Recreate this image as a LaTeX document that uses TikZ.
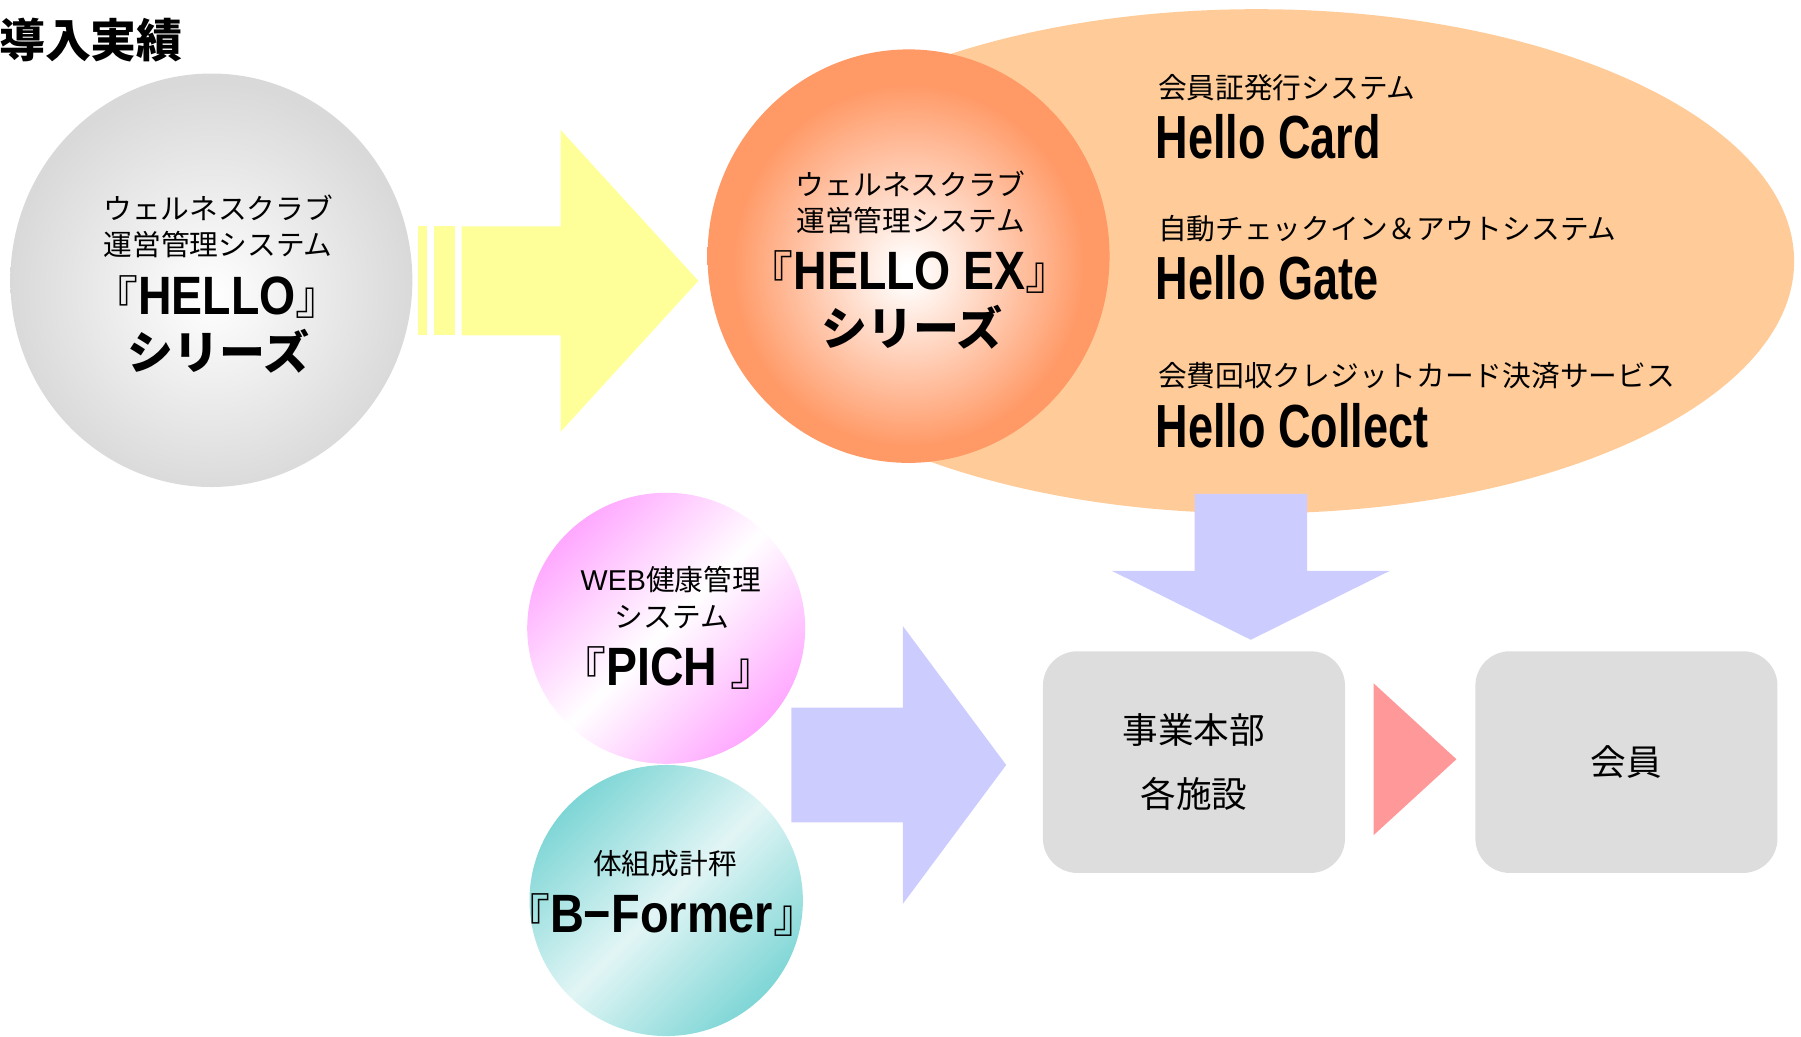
\documentclass[tikz,border=0pt]{standalone}
\usepackage{fontspec}
\newfontfamily\jp{Noto Sans CJK JP}
\newfontfamily\cond[FakeStretch=0.74]{Liberation Sans}
\newfontfamily\condw[FakeStretch=0.86]{Liberation Sans}
\newfontfamily\condx[FakeStretch=0.87]{Liberation Sans}
\newfontfamily\lat{Liberation Sans}
\usetikzlibrary{shapes.geometric}
\definecolor{peach}{HTML}{FFCC99}
\definecolor{corange}{HTML}{FF9966}
\definecolor{cyellow}{HTML}{FFFF99}
\definecolor{lav}{HTML}{CCCCFF}
\definecolor{pinkarr}{HTML}{FF9999}
\definecolor{boxgray}{HTML}{DDDDDD}
\definecolor{cgray}{HTML}{D9D9D9}
\definecolor{pinkE}{HTML}{FFA8FF}
\definecolor{tealE}{HTML}{7FD6D6}
\definecolor{tealM}{HTML}{E2F5F5}
\pgfdeclareradialshading{grayball}{\pgfpoint{0bp}{-2bp}}{color(0bp)=(white); color(25bp)=(cgray); color(50bp)=(cgray)}
\pgfdeclareradialshading{orangeball}{\pgfpoint{0bp}{-2bp}}{color(0bp)=(white); color(1bp)=(white); color(22bp)=(corange); color(50bp)=(corange)}
\tikzset{
  jt/.style={font=\jp\fontsize{25}{28}\selectfont, inner sep=0pt},
  jbig/.style={font=\jp\bfseries\fontsize{40}{44}\selectfont, inner sep=0pt},
  latb/.style={font=\cond\bfseries\fontsize{53}{56}\selectfont, inner sep=0pt},
  boxt/.style={font=\jp\fontsize{31}{56}\selectfont, align=center},
  roundbox/.style={rectangle, rounded corners=30pt, fill=boxgray, minimum width=263pt, minimum height=193pt, inner sep=0pt},
  ball/.style={ellipse, inner sep=0pt}
}
\newcommand{\cl}[1]{{\condw\fontsize{47}{50}\selectfont #1}}
\newcommand{\lb}{{\mdseries 『}}
\newcommand{\rb}{{\mdseries 』}}
\begin{document}
\begin{tikzpicture}[x=1pt,y=-1pt]
\useasboundingbox (0,0) rectangle (1568,902);
% title
\node[font=\jp\bfseries\fontsize{40}{44}\selectfont, inner sep=0pt, anchor=west] (title) at (-1,35) {導入実績};
% gray circle
\node[ball, shading=grayball, minimum width=350pt, minimum height=360pt] (hello) at (184,244) {};
\node[jt] (h1) at (190,181) {ウェルネスクラブ};
\node[jt] (h2) at (190,213) {運営管理システム};
\node[jbig] (h3) at (189,259) {\lb\cl{HELLO}\rb};
\node[jbig] (h4) at (190,306) {シリーズ};
% yellow arrow
\fill[cyellow] (364,197) rectangle (372,292);
\fill[cyellow] (378,197) rectangle (396,292);
\fill[cyellow] (402,197) -- (488,197) -- (488,113) -- (608,244.5) -- (488,376) -- (488,292) -- (402,292) -- cycle;
% peach ellipse
\node[ball, fill=peach, minimum width=936pt, minimum height=439pt] (suite) at (1094,227.5) {};
% orange circle
\node[ball, shading=orangeball, minimum width=350pt, minimum height=360pt] (helloex) at (791,223) {};
\node[jt] (e1) at (793,160) {ウェルネスクラブ};
\node[jt] (e2) at (793,192) {運営管理システム};
\node[jbig] (e3) at (792,237) {\lb\cl{HELLO EX}\rb};
\node[jbig] (e4) at (794,285) {シリーズ};
% suite texts
\node[jt, anchor=west] (c1) at (1008,76.5) {会員証発行システム};
\node[latb, anchor=base west] (c2) at (1006,138) {Hello Card};
\node[jt, anchor=west] (g1) at (1008,199) {自動チェックイン＆アウトシステム};
\node[latb, anchor=base west] (g2) at (1006,261) {Hello Gate};
\node[jt, anchor=west] (k1) at (1008,327.5) {会費回収クレジットカード決済サービス};
\node[latb, anchor=base west] (k2) at (1006,390) {Hello Collect};
% down arrow
\fill[lav] (1040,430) -- (1138,430) -- (1138,497) -- (1210,497) -- (1089,557) -- (968,497) -- (1040,497) -- cycle;
% pink circle
\node[ball, minimum width=242pt, minimum height=236pt, left color=pinkE, right color=pinkE, middle color=white, shading angle=45] (pich) at (580,547) {};
\node[jt] (p1) at (584,505) {{\lat WEB}健康管理};
\node[jt] (p2) at (585,537) {システム};
\node[jbig] (p3) at (582,582) {\lb\cl{PICH }\rb};
% teal circle
\node[ball, minimum width=238pt, minimum height=236pt, left color=tealE, right color=tealE, middle color=tealM, shading angle=45] (bformer) at (580,784) {};
\node[jt] (b1) at (579,752) {体組成計秤};
\node[jbig] (b2) at (576,797) {\lb{\condx\fontsize{47}{50}\selectfont B−Former}\rb};
% right arrow
\fill[lav] (689,616) -- (786,616) -- (786,545) -- (876,666) -- (786,787) -- (786,716) -- (689,716) -- cycle;
% boxes
\node[roundbox] (hq) at (1039.5,663.5) {};
\node[boxt] (hqt) at (hq) {事業本部\\各施設};
\fill[pinkarr] (1196,595) -- (1268,661) -- (1196,727) -- cycle;
\node[roundbox] (member) at (1416,663.5) {};
\node[boxt] (membert) at (member) {会員};
\end{tikzpicture}
\end{document}
